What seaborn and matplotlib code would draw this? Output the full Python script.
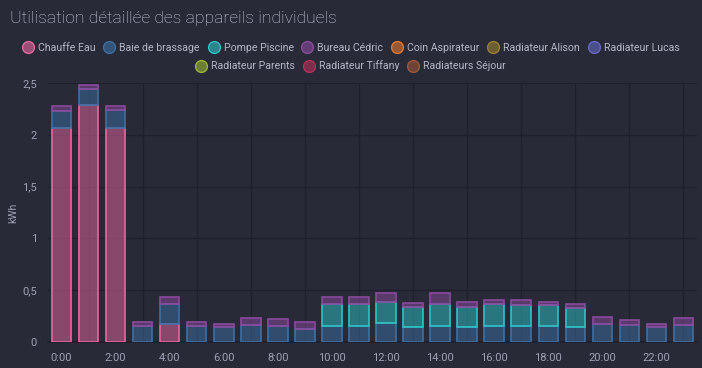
import numpy as np
import pandas as pd
import seaborn as sns
import matplotlib.pyplot as plt
from matplotlib.lines import Line2D
from matplotlib.colors import to_rgba

# hourly values (kWh)
hours = list(range(24))
chauffe_eau = [2.07, 2.29, 2.07, 0, 0.175, 0, 0, 0, 0, 0, 0, 0,
               0, 0, 0, 0, 0, 0, 0, 0, 0, 0, 0, 0]
baie_brassage = [0.155, 0.15, 0.17, 0.155, 0.19, 0.155, 0.14, 0.165, 0.155, 0.13, 0.15, 0.15,
                 0.18, 0.14, 0.15, 0.14, 0.15, 0.15, 0.15, 0.14, 0.175, 0.16, 0.14, 0.16]
pompe_piscine = [0, 0, 0, 0, 0, 0, 0, 0, 0, 0, 0.215, 0.215,
                 0.21, 0.2, 0.215, 0.2, 0.22, 0.205, 0.205, 0.19, 0, 0, 0, 0]
bureau_cedric = [0.055, 0.04, 0.04, 0.035, 0.065, 0.035, 0.03, 0.065, 0.065, 0.06, 0.07, 0.065,
                 0.08, 0.04, 0.105, 0.05, 0.035, 0.055, 0.035, 0.04, 0.07, 0.05, 0.035, 0.07]

series_names = ["Chauffe Eau", "Baie de brassage", "Pompe Piscine", "Bureau Cédric",
                "Coin Aspirateur", "Radiateur Alison", "Radiateur Lucas",
                "Radiateur Parents", "Radiateur Tiffany", "Radiateurs Séjour"]
series_colors = ["#e8679f", "#3d6fa3", "#2cc3c6", "#8a4a9e", "#e07830",
                 "#9a8030", "#6468c0", "#9ab634", "#b83058", "#a0553a"]
stack = [chauffe_eau, baie_brassage, pompe_piscine, bureau_cedric]

tick_labels = [f"{h}:00" for h in range(0, 24, 2)]

BG = "#282a38"
GRID = "#1e2030"
TXT = "#9fa2b5"

sns.set_theme(style="dark")
plt.rcParams["font.family"] = ["Roboto", "DejaVu Sans"]

fig = plt.figure(figsize=(7.02, 3.68), dpi=100, facecolor=BG)
ax = fig.add_axes([48 / 702, 1 - 342 / 368, 649 / 702, (342 - 83) / 368])
ax.set_facecolor(BG)

df = pd.DataFrame({"hour": hours})
bottom = np.zeros(24)
for name, vals, col in zip(series_names, stack, series_colors):
    df["v"] = vals
    n0 = len(ax.patches)
    sns.barplot(data=df, x="hour", y="v", bottom=bottom, width=0.72, color=col,
                saturation=1, errorbar=None, ax=ax, order=hours, zorder=3)
    for p, v in zip(ax.patches[n0:], vals):
        p.set_facecolor(to_rgba(col, 0.5))
        p.set_edgecolor(col)
        p.set_linewidth(1.2)
        if v == 0:
            p.set_visible(False)
    bottom = bottom + np.array(vals)

ax.set_xlim(-0.5, 23.5)
ax.set_ylim(0, 2.5)
ax.set_yticks([0, 0.5, 1, 1.5, 2, 2.5])
ax.set_yticklabels(["0", "0,5", "1", "1,5", "2", "2,5"])
ax.set_xticks(range(0, 24, 2))
ax.set_xticklabels(tick_labels)
ax.set_xticks(range(1, 24, 2), minor=True)
ax.tick_params(axis="x", which="major", length=0, colors=TXT, labelsize=8, pad=8)
ax.tick_params(axis="x", which="minor", length=5, color=GRID, width=1)
ax.tick_params(axis="y", length=0, colors=TXT, labelsize=8, pad=8)
ax.grid(axis="y", color=GRID, linewidth=1, zorder=0)
ax.grid(axis="x", which="minor", color=GRID, linewidth=1, zorder=0)
ax.set_axisbelow(True)
for s in ax.spines.values():
    s.set_visible(False)
ax.spines["bottom"].set_visible(True)
ax.spines["bottom"].set_color(GRID)
ax.set_xlabel("")
ax.set_ylabel("kWh", color=TXT, fontsize=7.5)
ax.yaxis.set_label_coords(-0.046, 0.5)

fig.text(10 / 702, 1 - 18 / 368, "Utilisation détaillée des appareils individuels",
         color="#cbcde0", fontsize=12.6, fontweight="light", va="center", ha="left")

def handle(col):
    return Line2D([], [], linestyle="none", marker="o", markersize=8.5,
                  markerfacecolor=to_rgba(col, 0.6), markeredgecolor=col, markeredgewidth=1)

rows = [(series_names[:7], series_colors[:7], 1 - 48 / 368),
        (series_names[7:], series_colors[7:], 1 - 66 / 368)]
for names, cols, y in rows:
    leg = fig.legend([handle(c) for c in cols], names, loc="center",
                     bbox_to_anchor=(351 / 702, y), ncol=len(names), frameon=False,
                     fontsize=7.6, labelcolor="#b4b7c8", handletextpad=0.45,
                     columnspacing=0.8, handlelength=1.0, borderpad=0)

fig.savefig("out.png", dpi=100, facecolor=BG)
